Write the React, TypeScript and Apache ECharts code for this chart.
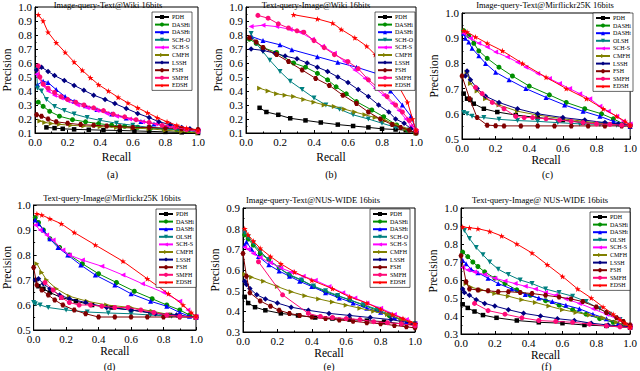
import React, { useEffect, useRef } from "react";
import * as echarts from "echarts";

type P = [number, number][];

// ---------- (a) Image-query-Text@Wiki ----------
const aPDH: P = [[0.07,0.14],[0.12,0.135],[0.17,0.13],[0.24,0.126],[0.33,0.123],[0.42,0.12],[0.52,0.118],[0.61,0.115],[0.7,0.112],[0.8,0.108],[0.9,0.105],[1.0,0.1]];
const aDASHi: P = [[0.02,0.32],[0.05,0.29],[0.09,0.255],[0.15,0.22],[0.23,0.195],[0.31,0.18],[0.39,0.167],[0.47,0.156],[0.55,0.148],[0.63,0.141],[0.71,0.135],[0.79,0.13],[0.87,0.124],[0.94,0.118],[1.0,0.113]];
const aDASHt: P = [[0.015,0.445],[0.05,0.47],[0.08,0.46],[0.13,0.41],[0.185,0.36],[0.24,0.326],[0.31,0.295],[0.38,0.267],[0.47,0.236],[0.56,0.207],[0.65,0.183],[0.73,0.165],[0.81,0.148],[0.89,0.132],[1.0,0.11]];
const aSCHO: P = [[0.01,0.55],[0.015,0.42],[0.04,0.4],[0.07,0.34],[0.12,0.29],[0.18,0.26],[0.24,0.235],[0.32,0.21],[0.4,0.19],[0.5,0.17],[0.6,0.155],[0.7,0.14],[0.8,0.13],[0.9,0.12],[1.0,0.11]];
const aSCHS: P = [[0.01,0.52],[0.02,0.5],[0.05,0.44],[0.08,0.4],[0.12,0.37],[0.16,0.35],[0.2,0.33],[0.26,0.3],[0.32,0.28],[0.38,0.26],[0.44,0.24],[0.5,0.22],[0.58,0.2],[0.66,0.18],[0.74,0.165],[0.82,0.15],[0.9,0.13],[1.0,0.12]];
const aCMFH: P = [[0.03,0.185],[0.06,0.175],[0.1,0.168],[0.15,0.162],[0.22,0.155],[0.3,0.15],[0.4,0.145],[0.5,0.14],[0.6,0.135],[0.7,0.13],[0.8,0.12],[0.9,0.11],[1.0,0.1]];
const aLSSH: P = [[0.01,0.55],[0.04,0.57],[0.08,0.54],[0.12,0.51],[0.18,0.475],[0.24,0.44],[0.3,0.405],[0.36,0.37],[0.43,0.34],[0.49,0.31],[0.56,0.275],[0.63,0.24],[0.7,0.21],[0.76,0.18],[0.83,0.16],[0.9,0.14],[0.95,0.13],[1.0,0.12]];
const aFSH: P = [[0.01,0.23],[0.04,0.22],[0.08,0.2],[0.13,0.18],[0.2,0.17],[0.28,0.16],[0.36,0.155],[0.44,0.15],[0.52,0.145],[0.6,0.14],[0.7,0.14],[0.8,0.135],[0.9,0.13],[1.0,0.125]];
const aSMFH: P = [[0.02,0.58],[0.03,0.5],[0.05,0.45],[0.08,0.42],[0.12,0.39],[0.16,0.36],[0.2,0.34],[0.25,0.32],[0.3,0.3],[0.36,0.28],[0.42,0.26],[0.48,0.235],[0.55,0.215],[0.62,0.195],[0.7,0.175],[0.78,0.155],[0.86,0.14],[0.93,0.125],[1.0,0.11]];
const aEDSH: P = [[0.02,0.945],[0.05,0.9],[0.08,0.82],[0.13,0.745],[0.185,0.676],[0.24,0.607],[0.29,0.548],[0.34,0.495],[0.39,0.445],[0.45,0.4],[0.51,0.355],[0.57,0.315],[0.63,0.28],[0.69,0.245],[0.75,0.21],[0.81,0.18],[0.87,0.155],[0.93,0.135],[1.0,0.12]];

// ---------- (b) Text-query-Image@Wiki ----------
const bPDH: P = [[0.08,0.28],[0.12,0.25],[0.19,0.23],[0.26,0.205],[0.35,0.19],[0.44,0.175],[0.54,0.16],[0.63,0.15],[0.72,0.14],[0.8,0.13],[0.88,0.125],[0.94,0.12],[1.0,0.1]];
const bDASHi: P = [[0.02,0.77],[0.06,0.74],[0.1,0.71],[0.18,0.675],[0.28,0.6],[0.35,0.57],[0.42,0.526],[0.48,0.48],[0.53,0.43],[0.59,0.38],[0.65,0.324],[0.74,0.264],[0.81,0.216],[0.886,0.157],[0.95,0.12],[1.0,0.1]];
const bDASHt: P = [[0.03,0.79],[0.1,0.76],[0.2,0.73],[0.27,0.695],[0.42,0.645],[0.54,0.605],[0.65,0.57],[0.78,0.52],[0.85,0.4],[0.92,0.3],[0.97,0.22],[1.0,0.12]];
const bSCHO: P = [[0.03,0.81],[0.06,0.74],[0.1,0.68],[0.14,0.62],[0.2,0.54],[0.26,0.47],[0.33,0.41],[0.4,0.35],[0.47,0.3],[0.55,0.27],[0.63,0.23],[0.72,0.2],[0.8,0.17],[0.88,0.14],[0.95,0.12],[1.0,0.1]];
const bSCHS: P = [[0.03,0.86],[0.1,0.87],[0.18,0.86],[0.26,0.84],[0.32,0.82],[0.39,0.77],[0.45,0.72],[0.52,0.67],[0.58,0.61],[0.64,0.55],[0.7,0.49],[0.76,0.42],[0.81,0.37],[0.86,0.31],[0.9,0.26],[0.94,0.2],[0.97,0.15],[1.0,0.11]];
const bCMFH: P = [[0.08,0.42],[0.13,0.4],[0.18,0.38],[0.23,0.37],[0.28,0.36],[0.34,0.34],[0.4,0.32],[0.46,0.3],[0.52,0.29],[0.58,0.27],[0.64,0.25],[0.7,0.23],[0.76,0.21],[0.82,0.19],[0.88,0.16],[0.94,0.13],[1.0,0.1]];
const bLSSH: P = [[0.03,0.7],[0.1,0.69],[0.17,0.67],[0.23,0.65],[0.3,0.63],[0.36,0.6],[0.42,0.57],[0.48,0.54],[0.54,0.5],[0.6,0.46],[0.66,0.41],[0.72,0.36],[0.78,0.3],[0.84,0.25],[0.88,0.2],[0.93,0.17],[0.97,0.13],[1.0,0.11]];
const bFSH: P = [[0.02,0.78],[0.06,0.75],[0.1,0.71],[0.18,0.66],[0.25,0.61],[0.33,0.55],[0.41,0.49],[0.49,0.44],[0.57,0.37],[0.65,0.31],[0.72,0.25],[0.79,0.2],[0.86,0.16],[0.91,0.14],[0.96,0.12],[1.0,0.1]];
const bSMFH: P = [[0.07,0.94],[0.13,0.92],[0.19,0.88],[0.25,0.85],[0.3,0.83],[0.34,0.82],[0.4,0.76],[0.46,0.71],[0.52,0.66],[0.6,0.61],[0.66,0.56],[0.72,0.48],[0.78,0.42],[0.83,0.36],[0.88,0.3],[0.92,0.25],[0.96,0.19],[1.0,0.12]];
const bEDSH: P = [[0.28,0.945],[0.42,0.915],[0.51,0.885],[0.56,0.84],[0.64,0.78],[0.71,0.72],[0.76,0.66],[0.8,0.6],[0.84,0.53],[0.9,0.43],[0.95,0.32],[0.98,0.2],[1.0,0.12]];

// ---------- (c) Image-query-Text@Mirflickr25K ----------
const cPDH: P = [[0.01,0.68],[0.03,0.66],[0.05,0.655],[0.07,0.64],[0.13,0.62],[0.21,0.607],[0.32,0.595],[0.45,0.585],[0.6,0.575],[0.72,0.565],[0.85,0.56],[1.0,0.555]];
const cDASHi: P = [[0.01,0.93],[0.04,0.91],[0.07,0.88],[0.1,0.85],[0.15,0.82],[0.22,0.785],[0.3,0.75],[0.4,0.71],[0.52,0.675],[0.62,0.645],[0.73,0.62],[0.83,0.6],[0.9,0.58],[0.96,0.56],[1.0,0.555]];
const cDASHt: P = [[0.01,0.92],[0.02,0.9],[0.04,0.885],[0.06,0.86],[0.1,0.83],[0.14,0.8],[0.2,0.765],[0.28,0.735],[0.38,0.7],[0.5,0.665],[0.61,0.635],[0.72,0.61],[0.82,0.59],[0.9,0.57],[0.96,0.56],[1.0,0.55]];
const cOLSH: P = [[0.01,0.605],[0.03,0.6],[0.06,0.59],[0.13,0.585],[0.22,0.578],[0.33,0.573],[0.45,0.57],[0.57,0.565],[0.7,0.56],[0.82,0.558],[0.92,0.555],[1.0,0.55]];
const cSCHS: P = [[0.01,0.92],[0.05,0.9],[0.1,0.88],[0.15,0.865],[0.2,0.845],[0.27,0.825],[0.33,0.805],[0.38,0.785],[0.45,0.76],[0.52,0.74],[0.58,0.72],[0.64,0.7],[0.7,0.68],[0.76,0.66],[0.82,0.63],[0.87,0.61],[0.92,0.59],[0.96,0.57],[1.0,0.56]];
const cCMFH: P = [[0.01,0.75],[0.03,0.765],[0.05,0.72],[0.09,0.69],[0.14,0.66],[0.22,0.635],[0.33,0.61],[0.45,0.595],[0.6,0.58],[0.73,0.57],[0.85,0.56],[1.0,0.555]];
const cLSSH: P = [[0.02,0.75],[0.03,0.77],[0.05,0.735],[0.09,0.7],[0.14,0.67],[0.22,0.645],[0.33,0.62],[0.45,0.6],[0.6,0.585],[0.73,0.575],[0.85,0.565],[0.93,0.56],[1.0,0.555]];
const cFSH: P = [[0.0,0.75],[0.045,0.66],[0.09,0.585],[0.15,0.555],[0.2,0.553],[0.25,0.552],[0.35,0.552],[0.45,0.552],[0.55,0.552],[0.65,0.552],[0.75,0.552],[0.85,0.552],[0.95,0.552],[1.0,0.552]];
const cSMFH: P = [[0.08,0.705],[0.12,0.68],[0.18,0.645],[0.25,0.62],[0.32,0.59],[0.37,0.585],[0.42,0.585],[0.5,0.58],[0.58,0.575],[0.65,0.57],[0.72,0.565],[0.8,0.56],[0.88,0.558],[0.95,0.555],[1.0,0.555]];
const cEDSH: P = [[0.01,0.93],[0.03,0.925],[0.08,0.905],[0.15,0.88],[0.24,0.85],[0.36,0.8],[0.5,0.745],[0.62,0.7],[0.74,0.66],[0.84,0.62],[0.92,0.59],[0.97,0.57],[1.0,0.555]];

// ---------- (d) Text-query-Image@Mirflickr25K ----------
const dPDH: P = [[0.01,0.7],[0.03,0.675],[0.06,0.665],[0.1,0.65],[0.17,0.63],[0.26,0.615],[0.36,0.6],[0.48,0.59],[0.6,0.58],[0.72,0.57],[0.84,0.56],[1.0,0.55]];
const dDASHi: P = [[0.01,0.95],[0.03,0.93],[0.06,0.9],[0.1,0.865],[0.16,0.83],[0.22,0.8],[0.3,0.765],[0.4,0.725],[0.51,0.69],[0.62,0.655],[0.73,0.625],[0.82,0.6],[0.9,0.58],[0.96,0.56],[1.0,0.55]];
const dDASHt: P = [[0.01,0.94],[0.03,0.925],[0.06,0.9],[0.1,0.865],[0.15,0.83],[0.21,0.8],[0.29,0.76],[0.38,0.72],[0.5,0.68],[0.6,0.645],[0.72,0.615],[0.82,0.595],[0.9,0.57],[0.96,0.555],[1.0,0.55]];
const dOLSH: P = [[0.0,0.61],[0.01,0.605],[0.04,0.6],[0.09,0.59],[0.2,0.58],[0.33,0.572],[0.46,0.568],[0.6,0.565],[0.72,0.56],[0.85,0.555],[1.0,0.55]];
const dSCHS: P = [[0.01,0.92],[0.04,0.9],[0.08,0.88],[0.12,0.86],[0.18,0.82],[0.22,0.8],[0.3,0.78],[0.42,0.755],[0.55,0.72],[0.67,0.685],[0.8,0.65],[0.9,0.615],[0.95,0.58],[1.0,0.555]];
const dCMFH: P = [[0.02,0.765],[0.05,0.73],[0.08,0.7],[0.14,0.665],[0.22,0.635],[0.33,0.615],[0.45,0.6],[0.6,0.59],[0.73,0.575],[0.85,0.56],[1.0,0.55]];
const dLSSH: P = [[0.01,0.7],[0.03,0.705],[0.06,0.685],[0.1,0.665],[0.16,0.64],[0.22,0.625],[0.32,0.61],[0.45,0.59],[0.6,0.58],[0.75,0.565],[0.88,0.56],[1.0,0.55]];
const dFSH: P = [[0.0,0.75],[0.02,0.68],[0.05,0.66],[0.09,0.64],[0.13,0.62],[0.18,0.6],[0.25,0.58],[0.32,0.565],[0.4,0.552],[0.5,0.552],[0.6,0.552],[0.7,0.552],[0.8,0.552],[0.9,0.552],[1.0,0.552]];
const dSMFH: P = [[0.07,0.69],[0.12,0.66],[0.17,0.63],[0.22,0.61],[0.28,0.6],[0.35,0.6],[0.42,0.595],[0.5,0.59],[0.58,0.59],[0.66,0.58],[0.74,0.57],[0.82,0.56],[0.9,0.555],[1.0,0.55]];
const dEDSH: P = [[0.02,0.965],[0.05,0.96],[0.1,0.945],[0.17,0.925],[0.25,0.89],[0.38,0.84],[0.55,0.775],[0.7,0.705],[0.83,0.645],[0.92,0.6],[0.97,0.57],[1.0,0.555]];

// ---------- (e) Image-query-Text@NUS-WIDE ----------
const ePDH: P = [[0.01,0.47],[0.03,0.44],[0.07,0.42],[0.13,0.405],[0.22,0.39],[0.32,0.38],[0.42,0.37],[0.52,0.365],[0.62,0.36],[0.72,0.355],[0.82,0.35],[0.92,0.34],[1.0,0.335]];
const eDASHi: P = [[0.01,0.77],[0.03,0.75],[0.06,0.72],[0.1,0.68],[0.15,0.65],[0.21,0.61],[0.27,0.575],[0.34,0.55],[0.41,0.52],[0.48,0.495],[0.55,0.475],[0.62,0.455],[0.7,0.43],[0.78,0.405],[0.85,0.38],[0.92,0.36],[1.0,0.34]];
const eDASHt: P = [[0.01,0.72],[0.02,0.735],[0.05,0.7],[0.09,0.665],[0.15,0.625],[0.21,0.595],[0.27,0.57],[0.33,0.545],[0.4,0.52],[0.48,0.49],[0.56,0.465],[0.64,0.44],[0.72,0.415],[0.8,0.395],[0.88,0.37],[0.95,0.35],[1.0,0.335]];
const eSCHO: P = [[0.01,0.78],[0.03,0.76],[0.06,0.73],[0.1,0.69],[0.15,0.65],[0.21,0.61],[0.27,0.578],[0.34,0.552],[0.41,0.522],[0.48,0.5],[0.55,0.477],[0.62,0.456],[0.7,0.432],[0.78,0.41],[0.85,0.385],[0.92,0.36],[1.0,0.34]];
const eSCHS: P = [[0.01,0.71],[0.03,0.7],[0.06,0.68],[0.1,0.66],[0.16,0.635],[0.22,0.61],[0.28,0.59],[0.35,0.57],[0.42,0.55],[0.5,0.52],[0.58,0.49],[0.65,0.465],[0.72,0.44],[0.8,0.415],[0.88,0.385],[0.95,0.36],[1.0,0.34]];
const eCMFH: P = [[0.01,0.58],[0.05,0.565],[0.12,0.545],[0.2,0.52],[0.28,0.495],[0.36,0.475],[0.44,0.46],[0.52,0.445],[0.6,0.43],[0.68,0.415],[0.76,0.4],[0.84,0.385],[0.92,0.36],[1.0,0.34]];
const eLSSH: P = [[0.01,0.545],[0.02,0.53],[0.04,0.51],[0.08,0.48],[0.13,0.46],[0.2,0.44],[0.28,0.42],[0.38,0.405],[0.5,0.39],[0.62,0.38],[0.74,0.37],[0.86,0.36],[1.0,0.34]];
const eFSH: P = [[0.0,0.68],[0.02,0.57],[0.04,0.49],[0.1,0.45],[0.16,0.425],[0.21,0.405],[0.27,0.39],[0.33,0.38],[0.4,0.372],[0.48,0.365],[0.56,0.358],[0.64,0.352],[0.72,0.345],[0.8,0.34],[0.88,0.332],[0.95,0.325],[1.0,0.32]];
const eSMFH: P = [[0.09,0.64],[0.23,0.48],[0.38,0.39],[0.45,0.375],[0.52,0.37],[0.6,0.365],[0.68,0.36],[0.76,0.35],[0.84,0.345],[0.92,0.34],[1.0,0.33]];
const eEDSH: P = [[0.01,0.8],[0.03,0.77],[0.06,0.74],[0.1,0.705],[0.16,0.665],[0.22,0.63],[0.3,0.59],[0.4,0.55],[0.52,0.51],[0.62,0.47],[0.72,0.44],[0.8,0.41],[0.87,0.385],[0.93,0.365],[0.97,0.35],[1.0,0.34]];

// ---------- (f) Text-query-Image@NUS-WIDE ----------
const fPDH: P = [[0.01,0.465],[0.04,0.445],[0.08,0.425],[0.13,0.405],[0.21,0.39],[0.33,0.375],[0.46,0.365],[0.6,0.36],[0.73,0.35],[0.86,0.345],[1.0,0.335]];
const fDASHi: P = [[0.01,0.755],[0.04,0.73],[0.07,0.7],[0.1,0.675],[0.14,0.645],[0.2,0.61],[0.26,0.58],[0.33,0.545],[0.41,0.515],[0.5,0.485],[0.58,0.46],[0.66,0.435],[0.74,0.41],[0.82,0.385],[0.9,0.365],[0.96,0.35],[1.0,0.34]];
const fDASHt: P = [[0.01,0.71],[0.03,0.69],[0.06,0.66],[0.1,0.64],[0.16,0.61],[0.22,0.58],[0.3,0.55],[0.38,0.52],[0.46,0.5],[0.54,0.48],[0.62,0.46],[0.7,0.44],[0.78,0.41],[0.86,0.385],[0.93,0.36],[1.0,0.34]];
const fOLSH: P = [[0.02,0.875],[0.05,0.83],[0.09,0.78],[0.13,0.74],[0.17,0.7],[0.22,0.66],[0.28,0.63],[0.35,0.6],[0.42,0.58],[0.5,0.55],[0.58,0.53],[0.66,0.51],[0.74,0.48],[0.82,0.44],[0.88,0.41],[0.94,0.38],[1.0,0.34]];
const fSCHS: P = [[0.01,0.67],[0.04,0.655],[0.08,0.645],[0.14,0.63],[0.2,0.61],[0.26,0.595],[0.32,0.58],[0.38,0.565],[0.44,0.55],[0.5,0.53],[0.56,0.515],[0.62,0.495],[0.7,0.47],[0.78,0.44],[0.86,0.41],[0.93,0.38],[1.0,0.345]];
const fCMFH: P = [[0.03,0.58],[0.06,0.56],[0.12,0.545],[0.2,0.525],[0.28,0.51],[0.36,0.49],[0.44,0.475],[0.52,0.455],[0.6,0.435],[0.68,0.42],[0.76,0.405],[0.84,0.39],[0.92,0.365],[1.0,0.34]];
const fLSSH: P = [[0.01,0.55],[0.02,0.53],[0.05,0.515],[0.09,0.49],[0.14,0.47],[0.2,0.455],[0.28,0.435],[0.37,0.415],[0.47,0.4],[0.57,0.385],[0.67,0.375],[0.77,0.36],[0.87,0.35],[1.0,0.34]];
const fFSH: P = [[0.0,0.735],[0.03,0.59],[0.05,0.55],[0.1,0.545],[0.16,0.54],[0.22,0.535],[0.28,0.535],[0.35,0.53],[0.42,0.525],[0.5,0.515],[0.58,0.505],[0.65,0.495],[0.72,0.48],[0.8,0.45],[0.86,0.42],[0.92,0.39],[0.96,0.37],[1.0,0.35]];
const fSMFH: P = [[0.08,0.47],[0.16,0.43],[0.26,0.41],[0.36,0.39],[0.46,0.375],[0.56,0.37],[0.66,0.365],[0.76,0.355],[0.86,0.345],[0.94,0.34],[1.0,0.335]];
const fEDSH: P = [[0.01,0.895],[0.05,0.89],[0.1,0.885],[0.17,0.87],[0.24,0.845],[0.33,0.8],[0.42,0.75],[0.51,0.685],[0.6,0.62],[0.69,0.55],[0.77,0.5],[0.84,0.45],[0.9,0.41],[0.94,0.38],[0.97,0.36],[1.0,0.34]];

const titles = [
  "Image-query-Text@Wiki 16bits",
  "Text-query-Image@Wiki 16bits",
  "Image-query-Text@Mirflickr25K 16bits",
  "Text-query-Image@Mirflickr25K 16bits",
  "Image-query-Text@NUS-WIDE 16bits",
  "Text-query-Image@ NUS-WIDE 16bits",
];
const captions = ["(a)", "(b)", "(c)", "(d)", "(e)", "(f)"];
const yMins = [0.1, 0.1, 0.5, 0.5, 0.3, 0.3];
const yMaxs = [1.0, 1.0, 1.0, 1.0, 0.9, 1.0];
const namesO = ["PDH", "DASHi", "DASHt", "SCH-O", "SCH-S", "CMFH", "LSSH", "FSH", "SMFH", "EDSH"];
const namesL = ["PDH", "DASHi", "DASHt", "OLSH", "SCH-S", "CMFH", "LSSH", "FSH", "SMFH", "EDSH"];
const plotNames = [namesO, namesO, namesL, namesL, namesO, namesL];
const plotData: P[][] = [
  [aPDH, aDASHi, aDASHt, aSCHO, aSCHS, aCMFH, aLSSH, aFSH, aSMFH, aEDSH],
  [bPDH, bDASHi, bDASHt, bSCHO, bSCHS, bCMFH, bLSSH, bFSH, bSMFH, bEDSH],
  [cPDH, cDASHi, cDASHt, cOLSH, cSCHS, cCMFH, cLSSH, cFSH, cSMFH, cEDSH],
  [dPDH, dDASHi, dDASHt, dOLSH, dSCHS, dCMFH, dLSSH, dFSH, dSMFH, dEDSH],
  [ePDH, eDASHi, eDASHt, eSCHO, eSCHS, eCMFH, eLSSH, eFSH, eSMFH, eEDSH],
  [fPDH, fDASHi, fDASHt, fOLSH, fSCHS, fCMFH, fLSSH, fFSH, fSMFH, fEDSH],
];

const STAR = "path://M50,0 L61,35 L98,35 L68,57 L79,91 L50,70 L21,91 L32,57 L2,35 L39,35 Z";
const HEX = "path://M25,0 L75,0 L100,43 L75,86 L25,86 L0,43 Z";
const styles = [
  { color: "#000000", symbol: "rect", rot: 0, size: 4.5 },
  { color: "#008f00", symbol: "circle", rot: 0, size: 5 },
  { color: "#0000ff", symbol: "triangle", rot: 0, size: 5 },
  { color: "#008080", symbol: "triangle", rot: 180, size: 5 },
  { color: "#ff00ff", symbol: "triangle", rot: 90, size: 5 },
  { color: "#808000", symbol: "triangle", rot: -90, size: 5 },
  { color: "#000080", symbol: "diamond", rot: 0, size: 5.5 },
  { color: "#800000", symbol: HEX, rot: 0, size: 5 },
  { color: "#ff0a78", symbol: "circle", rot: 0, size: 5 },
  { color: "#ff0000", symbol: STAR, rot: 0, size: 6 },
];

const grids = [
  { left: 27, top: 7, width: 171, height: 126 },
  { left: 246, top: 7, width: 170, height: 126 },
  { left: 462, top: 13, width: 171, height: 126 },
  { left: 23, top: 205, width: 173, height: 125 },
  { left: 243, top: 208, width: 172, height: 124 },
  { left: 461, top: 208, width: 171, height: 126 },
];
const titlePos = [[108, 4.5], [316, 4.5], [545, 5], [112, 198], [313, 200], [540, 200]];
const legendPos = [[152, 12], [375, 12], [593, 13], [156, 209], [370, 209], [590, 212]];
const xNameGaps = [18, 18, 13, 12, 12, 12];
const captionY = [174, 174, 174, 366, 366, 366];

const FONT = "Liberation Serif";

export default function App() {
  const ref = useRef<HTMLDivElement>(null);
  useEffect(() => {
    if (!ref.current) return;
    const chart = echarts.init(ref.current, undefined, { renderer: "svg" });
    const fmt = (v: number) => v.toFixed(1);
    const series: any[] = [];
    plotData.forEach((list, pi) => {
      list.forEach((data, si) => {
        const st = styles[si];
        series.push({
          type: "line",
          name: plotNames[pi][si],
          xAxisIndex: pi,
          yAxisIndex: pi,
          data,
          symbol: st.symbol,
          symbolSize: st.size,
          symbolRotate: st.rot,
          showSymbol: true,
          lineStyle: { color: st.color, width: 1 },
          itemStyle: { color: st.color },
          emphasis: { disabled: true },
          z: 2 + si * 0.01,
        });
      });
    });
    const graphics: any[] = [];
    grids.forEach((g, i) => {
      graphics.push({
        type: "text",
        x: titlePos[i][0],
        y: titlePos[i][1],
        style: { text: titles[i], font: `8.5px ${FONT}`, fill: "#000", align: "center", verticalAlign: "middle" },
      });
      graphics.push({
        type: "text",
        x: g.left + g.width / 2,
        y: captionY[i],
        style: { text: captions[i], font: `10px ${FONT}`, fill: "#000", align: "center", verticalAlign: "middle" },
      });
    });
    chart.setOption({
      animation: false,
      backgroundColor: "#fff",
      grid: grids.map((g) => ({ ...g, show: true, borderColor: "#000", borderWidth: 1, containLabel: false })),
      xAxis: grids.map((_, i) => ({
        type: "value",
        gridIndex: i,
        min: 0,
        max: 1,
        interval: 0.2,
        name: "Recall",
        nameLocation: "middle",
        nameGap: xNameGaps[i],
        nameTextStyle: { fontFamily: FONT, fontSize: 11.5, color: "#000" },
        axisLine: { show: true, lineStyle: { color: "#000", width: 1 } },
        axisTick: { show: true, inside: true, length: 3, lineStyle: { color: "#000" } },
        minorTick: { show: true, splitNumber: 2, length: 1.5, lineStyle: { color: "#000" } },
        splitLine: { show: false },
        axisLabel: { formatter: fmt, fontFamily: FONT, fontSize: 11, color: "#000", margin: 3 },
      })),
      yAxis: grids.map((_, i) => ({
        type: "value",
        gridIndex: i,
        min: yMins[i],
        max: yMaxs[i],
        interval: 0.1,
        name: "Precision",
        nameLocation: "middle",
        nameGap: i === 3 ? 20 : 22,
        nameTextStyle: { fontFamily: FONT, fontSize: 11.5, color: "#000" },
        axisLine: { show: true, lineStyle: { color: "#000", width: 1 } },
        axisTick: { show: true, inside: true, length: 3, lineStyle: { color: "#000" } },
        minorTick: { show: true, splitNumber: 2, length: 1.5, lineStyle: { color: "#000" } },
        splitLine: { show: false },
        axisLabel: { formatter: fmt, fontFamily: FONT, fontSize: 11, color: "#000", margin: 3 },
      })),
      legend: legendPos.map((lp, i) => ({
        data: plotNames[i],
        orient: "vertical",
        left: lp[0],
        top: lp[1],
        itemWidth: 14,
        itemHeight: 5,
        itemGap: 1.6,
        padding: [2, 2, 2, 2],
        borderColor: "#000",
        borderWidth: 0.6,
        backgroundColor: "#fff",
        selectedMode: false,
        textStyle: { fontFamily: FONT, fontSize: 6, color: "#000", lineHeight: 6, padding: [0, 0, 0, -2] },
      })),
      graphic: graphics,
      series,
    });
    return () => chart.dispose();
  }, []);
  return <div ref={ref} style={{ position: "fixed", left: 0, top: 0, width: 640, height: 371 }} />;
}
